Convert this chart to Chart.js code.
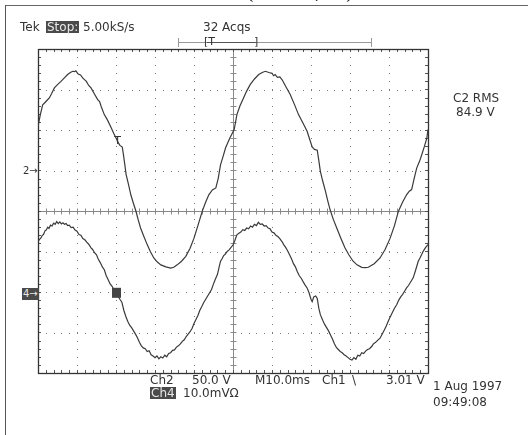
<!DOCTYPE html>
<html>
<head>
<meta charset="utf-8">
<script src="https://cdn.jsdelivr.net/npm/chart.js@4/dist/chart.umd.min.js"></script>
<style>
  body { margin: 0; background: #fff; }
  #wrap { position: relative; width: 528px; height: 435px; overflow: hidden;
          font-family: "DejaVu Sans", sans-serif; color: #333; }
  canvas { position: absolute; left: 0; top: 0; }
  .t { position: absolute; font-size: 12px; line-height: 12px; white-space: nowrap; }
  .inv { background: #4a4a4a; color: #e8e8e8; padding: 0 1px; }
  #frame { position: absolute; left: 5px; top: 5px; width: 600px; height: 600px;
           border-left: 1.5px solid #555; border-top: 1.5px solid #666; }
</style>
</head>
<body>
<div id="wrap">
  <div id="frame"></div>
  <canvas id="scope" width="528" height="435"></canvas>

  <div class="t" style="left:110px;top:-12px;font:bold 13px 'DejaVu Serif',serif;letter-spacing:1px;">Lower trace - I4 (100 mA/div)</div>

  <div class="t" style="left:20px;top:21px;">Tek</div>
  <div class="t inv" style="left:46px;top:21px;">Stop:</div>
  <div class="t" style="left:83px;top:21px;">5.00kS/s</div>
  <div class="t" style="left:203px;top:21px;">32 Acqs</div>
  <div class="t" style="left:204px;top:36px;font-size:11px;">[T</div>
  <div class="t" style="left:254px;top:36px;font-size:11px;">]</div>

  <div class="t" style="left:453px;top:92px;">C2 RMS</div>
  <div class="t" style="left:456px;top:106px;">84.9 V</div>

  <div class="t" style="left:23px;top:165px;font-size:10px;">2→</div>
  <div class="t inv" style="left:22px;top:288px;font-size:10px;">4→</div>

  <div class="t" style="left:150px;top:374px;">Ch2</div>
  <div class="t" style="left:192px;top:374px;">50.0 V</div>
  <div class="t" style="left:255px;top:374px;">M10.0ms</div>
  <div class="t" style="left:322px;top:374px;">Ch1</div>
  <div class="t" style="left:352px;top:374px;">\</div>
  <div class="t" style="left:386px;top:374px;">3.01 V</div>
  <div class="t inv" style="left:150px;top:387px;">Ch4</div>
  <div class="t" style="left:183px;top:387px;">10.0mVΩ</div>
  <div class="t" style="left:433px;top:380px;">1 Aug 1997</div>
  <div class="t" style="left:433px;top:396px;">09:49:08</div>
</div>

<script>
// screen is 10 x 8 divisions, values below are in divisions
const xDivs = [0, 1, 2, 3, 4, 5, 6, 7, 8, 9, 10];
const yDivs = [-4, -3, -2, -1, 0, 1, 2, 3, 4];

// Ch2 (upper trace), [x, y] pairs
const ch2 = [
  [0.00, 2.09], [0.06, 2.38], [0.12, 2.62], [0.18, 2.68], [0.24, 2.74], [0.29, 2.79],
  [0.35, 2.90], [0.42, 3.04], [0.50, 3.12], [0.59, 3.20], [0.67, 3.28], [0.76, 3.37],
  [0.83, 3.42], [0.89, 3.45], [0.93, 3.44], [0.97, 3.46], [1.03, 3.38], [1.09, 3.36],
  [1.15, 3.28], [1.24, 3.20], [1.30, 3.10], [1.36, 3.04], [1.44, 2.90], [1.53, 2.75],
  [1.58, 2.70], [1.62, 2.58], [1.70, 2.38], [1.78, 2.25], [1.88, 2.05], [1.94, 1.92],
  [2.00, 1.80], [2.05, 1.70], [2.10, 1.62], [2.16, 1.58], [2.19, 1.40], [2.26, 0.90],
  [2.32, 0.66], [2.38, 0.40], [2.45, 0.18], [2.51, 0.00], [2.57, -0.22], [2.63, -0.42],
  [2.72, -0.64], [2.80, -0.83], [2.88, -1.00], [2.97, -1.16], [3.06, -1.26], [3.15, -1.33],
  [3.28, -1.38], [3.40, -1.41], [3.48, -1.39], [3.57, -1.33], [3.68, -1.24], [3.79, -1.12],
  [3.90, -0.92], [4.00, -0.67], [4.10, -0.36], [4.21, -0.01], [4.30, 0.22], [4.38, 0.40],
  [4.47, 0.52], [4.56, 0.57], [4.62, 0.80], [4.68, 1.14], [4.75, 1.36], [4.81, 1.56],
  [4.92, 1.80], [5.03, 2.01], [5.10, 2.38], [5.18, 2.60], [5.27, 2.79], [5.35, 2.96],
  [5.44, 3.12], [5.55, 3.26], [5.66, 3.37], [5.75, 3.42], [5.83, 3.45], [5.92, 3.42],
  [6.00, 3.40], [6.04, 3.34], [6.08, 3.37], [6.14, 3.30], [6.20, 3.31], [6.26, 3.24],
  [6.36, 3.06], [6.47, 2.87], [6.58, 2.62], [6.68, 2.38], [6.80, 2.16], [6.90, 1.97],
  [6.97, 1.76], [7.03, 1.58], [7.09, 1.52], [7.16, 1.50], [7.20, 1.25], [7.24, 0.98],
  [7.30, 0.74], [7.37, 0.49], [7.43, 0.25], [7.49, 0.03], [7.57, -0.20], [7.66, -0.42],
  [7.76, -0.66], [7.87, -0.91], [7.97, -1.08], [8.08, -1.24], [8.18, -1.33], [8.30, -1.39],
  [8.40, -1.40], [8.47, -1.39], [8.62, -1.30], [8.77, -1.16], [8.90, -0.95], [9.03, -0.67],
  [9.14, -0.36], [9.24, -0.01], [9.35, 0.22], [9.45, 0.40], [9.52, 0.49], [9.58, 0.53],
  [9.64, 0.78], [9.71, 1.06], [9.78, 1.22], [9.84, 1.39], [9.91, 1.60], [9.97, 1.80],
  [10.00, 2.01]
];

// Ch4 (lower trace), noisy current probe
const ch4 = [
  [0.00, -0.75], [0.04, -0.70], [0.08, -0.66], [0.11, -0.60], [0.14, -0.58], [0.18, -0.49],
  [0.21, -0.47], [0.25, -0.40], [0.28, -0.43], [0.32, -0.35], [0.36, -0.37], [0.40, -0.30],
  [0.44, -0.33], [0.48, -0.26], [0.52, -0.31], [0.56, -0.27], [0.60, -0.32], [0.64, -0.29],
  [0.68, -0.33], [0.72, -0.31], [0.76, -0.36], [0.80, -0.35], [0.85, -0.41], [0.90, -0.40],
  [0.95, -0.47], [1.00, -0.50], [1.05, -0.58], [1.10, -0.60], [1.15, -0.68], [1.20, -0.71],
  [1.25, -0.77], [1.30, -0.82], [1.36, -0.91], [1.40, -0.95], [1.45, -1.03], [1.50, -1.08],
  [1.55, -1.20], [1.60, -1.28], [1.65, -1.38], [1.70, -1.45], [1.75, -1.60], [1.80, -1.70],
  [1.85, -1.80], [1.90, -1.86], [1.95, -1.95], [2.00, -2.02], [2.05, -2.10], [2.10, -2.18],
  [2.15, -2.25], [2.20, -2.45], [2.25, -2.60], [2.30, -2.72], [2.35, -2.82], [2.40, -2.88],
  [2.45, -2.96], [2.50, -3.04], [2.55, -3.13], [2.60, -3.24], [2.65, -3.33], [2.70, -3.38],
  [2.75, -3.40], [2.80, -3.47], [2.85, -3.45], [2.90, -3.55], [2.95, -3.58], [3.00, -3.62],
  [3.05, -3.58], [3.10, -3.65], [3.15, -3.60], [3.20, -3.63], [3.25, -3.56], [3.30, -3.60],
  [3.35, -3.52], [3.40, -3.50], [3.45, -3.44], [3.50, -3.43], [3.55, -3.36], [3.60, -3.33],
  [3.65, -3.28], [3.70, -3.22], [3.75, -3.18], [3.80, -3.10], [3.85, -3.04], [3.90, -2.98],
  [3.95, -2.90], [4.00, -2.78], [4.05, -2.68], [4.10, -2.58], [4.15, -2.45], [4.20, -2.36],
  [4.25, -2.26], [4.30, -2.18], [4.35, -2.10], [4.40, -2.02], [4.45, -1.94], [4.50, -1.80],
  [4.55, -1.68], [4.60, -1.57], [4.65, -1.36], [4.68, -1.24], [4.72, -1.18], [4.76, -1.10],
  [4.80, -1.07], [4.85, -1.00], [4.90, -0.96], [4.95, -0.90], [5.00, -0.84], [5.05, -0.72],
  [5.10, -0.59], [5.15, -0.55], [5.20, -0.52], [5.25, -0.46], [5.30, -0.48], [5.35, -0.42],
  [5.40, -0.44], [5.45, -0.37], [5.50, -0.40], [5.55, -0.33], [5.60, -0.36], [5.65, -0.28],
  [5.70, -0.33], [5.75, -0.32], [5.80, -0.37], [5.85, -0.36], [5.90, -0.42], [5.95, -0.44],
  [6.00, -0.52], [6.05, -0.54], [6.10, -0.60], [6.15, -0.63], [6.20, -0.68], [6.26, -0.76],
  [6.30, -0.83], [6.35, -0.90], [6.40, -0.98], [6.45, -1.08], [6.50, -1.18], [6.55, -1.30],
  [6.60, -1.38], [6.65, -1.50], [6.70, -1.60], [6.75, -1.66], [6.80, -1.75], [6.85, -1.83],
  [6.90, -1.90], [6.95, -2.02], [7.00, -2.18], [7.03, -2.24], [7.07, -2.12], [7.12, -2.10],
  [7.16, -2.16], [7.20, -2.40], [7.24, -2.56], [7.30, -2.70], [7.35, -2.80], [7.40, -2.88],
  [7.45, -2.96], [7.50, -3.06], [7.55, -3.16], [7.60, -3.28], [7.65, -3.37], [7.70, -3.42],
  [7.75, -3.47], [7.80, -3.50], [7.85, -3.55], [7.90, -3.58], [7.95, -3.62], [8.00, -3.66],
  [8.05, -3.68], [8.10, -3.62], [8.15, -3.66], [8.20, -3.56], [8.25, -3.58], [8.30, -3.50],
  [8.35, -3.52], [8.40, -3.46], [8.45, -3.42], [8.50, -3.40], [8.56, -3.34], [8.60, -3.28],
  [8.65, -3.25], [8.70, -3.20], [8.77, -3.14], [8.82, -3.05], [8.88, -2.94], [8.93, -2.84],
  [8.98, -2.72], [9.03, -2.62], [9.08, -2.52], [9.14, -2.40], [9.20, -2.31], [9.25, -2.20],
  [9.30, -2.12], [9.35, -2.06], [9.40, -1.98], [9.45, -1.90], [9.50, -1.84], [9.55, -1.76],
  [9.62, -1.65], [9.67, -1.50], [9.72, -1.34], [9.75, -1.24], [9.80, -1.15], [9.85, -1.05],
  [9.88, -0.99], [9.94, -0.90], [10.00, -0.83]
];

// trigger marker on Ch2 and cursor box on Ch4
const trigMark = [2.04, 1.72];
const ch4Mark = [2.0, -2.02];

const toXY = arr => arr.map(p => ({ x: p[0], y: p[1] }));

// graticule: dotted grid, crosshair with minor ticks, ticked border
const graticule = {
  id: "graticule",
  beforeDatasetsDraw(chart) {
    const { ctx, chartArea: a, scales: { x, y } } = chart;
    ctx.save();
    ctx.fillStyle = "#7a7a7a";
    for (let i = 1; i < xDivs.length - 1; i++) {
      if (xDivs[i] === 5) continue;
      const px = Math.round(x.getPixelForValue(xDivs[i]));
      for (let v = -4; v <= 4.001; v += 0.2) {
        ctx.fillRect(px, Math.round(y.getPixelForValue(v)), 1, 1);
      }
    }
    for (let j = 1; j < yDivs.length - 1; j++) {
      if (yDivs[j] === 0) continue;
      const py = Math.round(y.getPixelForValue(yDivs[j]));
      for (let v = 0; v <= 10.001; v += 0.2) {
        ctx.fillRect(Math.round(x.getPixelForValue(v)), py, 1, 1);
      }
    }
    // crosshair
    ctx.strokeStyle = "#8a8a8a";
    ctx.lineWidth = 1;
    const cx = Math.round(x.getPixelForValue(5)) + 0.5;
    const cy = Math.round(y.getPixelForValue(0)) + 0.5;
    ctx.beginPath();
    ctx.moveTo(a.left, cy); ctx.lineTo(a.right, cy);
    ctx.moveTo(cx, a.top); ctx.lineTo(cx, a.bottom);
    for (let v = 0; v <= 10.001; v += 0.2) {
      const px = Math.round(x.getPixelForValue(v)) + 0.5;
      ctx.moveTo(px, cy - 3); ctx.lineTo(px, cy + 3);
    }
    for (let v = -4; v <= 4.001; v += 0.2) {
      const py = Math.round(y.getPixelForValue(v)) + 0.5;
      ctx.moveTo(cx - 3, py); ctx.lineTo(cx + 3, py);
    }
    ctx.stroke();
    // border ticks
    ctx.strokeStyle = "#555";
    ctx.beginPath();
    for (let v = 0; v <= 10.001; v += 0.2) {
      const px = Math.round(x.getPixelForValue(v)) + 0.5;
      ctx.moveTo(px, a.top); ctx.lineTo(px, a.top + 3);
      ctx.moveTo(px, a.bottom); ctx.lineTo(px, a.bottom - 3);
    }
    for (let v = -4; v <= 4.001; v += 0.2) {
      const py = Math.round(y.getPixelForValue(v)) + 0.5;
      ctx.moveTo(a.left, py); ctx.lineTo(a.left + 3, py);
      ctx.moveTo(a.right, py); ctx.lineTo(a.right - 3, py);
    }
    ctx.stroke();
    ctx.strokeStyle = "#333";
    ctx.lineWidth = 1.3;
    ctx.strokeRect(a.left + 0.5, a.top + 0.5, a.right - a.left, a.bottom - a.top);
    // record length bar above the screen
    ctx.strokeStyle = "#999";
    ctx.lineWidth = 1;
    ctx.beginPath();
    ctx.moveTo(178, 42.5); ctx.lineTo(372, 42.5);
    ctx.moveTo(178.5, 38); ctx.lineTo(178.5, 47);
    ctx.moveTo(371.5, 38); ctx.lineTo(371.5, 47);
    ctx.stroke();
    ctx.strokeStyle = "#555";
    ctx.beginPath();
    ctx.moveTo(207, 42.5); ctx.lineTo(256, 42.5);
    ctx.stroke();
    ctx.restore();
  },
  afterDatasetsDraw(chart) {
    const { ctx, scales: { x, y } } = chart;
    ctx.save();
    ctx.fillStyle = "#333";
    ctx.font = "11px 'DejaVu Sans'";
    ctx.textAlign = "center";
    ctx.textBaseline = "middle";
    ctx.fillText("T", x.getPixelForValue(trigMark[0]), y.getPixelForValue(trigMark[1]));
    ctx.fillStyle = "#444";
    const bx = x.getPixelForValue(ch4Mark[0]);
    const by = y.getPixelForValue(ch4Mark[1]);
    ctx.fillRect(bx - 4, by - 5, 9, 10);
    ctx.restore();
  }
};

new Chart(document.getElementById("scope").getContext("2d"), {
  type: "line",
  data: {
    datasets: [
      { label: "Ch2", data: toXY(ch2), borderColor: "#3a3a3a", borderWidth: 1.2,
        pointRadius: 0, tension: 0, fill: false },
      { label: "Ch4", data: toXY(ch4), borderColor: "#3a3a3a", borderWidth: 1.2,
        pointRadius: 0, tension: 0, fill: false }
    ]
  },
  options: {
    responsive: false,
    animation: false,
    events: [],
    layout: { padding: { left: 38, top: 49, right: 100, bottom: 62 } },
    scales: {
      x: { type: "linear", min: 0, max: 10, display: false },
      y: { type: "linear", min: -4, max: 4, display: false }
    },
    plugins: { legend: { display: false }, tooltip: { enabled: false } }
  },
  plugins: [graticule]
});
</script>
</body>
</html>
